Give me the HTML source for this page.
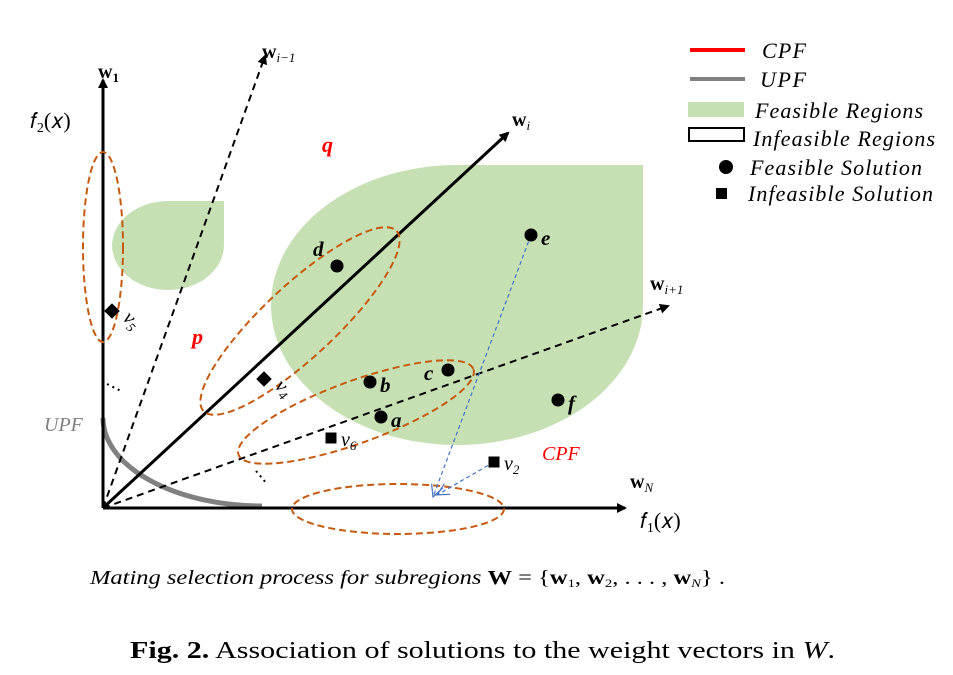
<!DOCTYPE html>
<html><head><meta charset="utf-8"><style>
html,body{margin:0;padding:0;background:#fff;}
svg{display:block;font-family:"Liberation Serif",serif;}
</style></head><body>
<svg id="fig" width="953" height="675" viewBox="0 0 953 675">
<defs>
<marker id="ah" markerWidth="10" markerHeight="10" refX="8" refY="5" orient="auto" markerUnits="userSpaceOnUse"><path d="M0,0 L10,5 L0,10 Z" fill="#000"/></marker>
<marker id="ab" markerWidth="14" markerHeight="14" refX="12" refY="7" orient="auto" markerUnits="userSpaceOnUse"><path d="M0,1 L12,7 L0,13" fill="none" stroke="#4472c4" stroke-width="1.2"/></marker>
</defs>
<g>
<path d="M457,165 L643,165 L643,305 A186 140 0 0 1 457 445 A186 140 0 0 1 271 305 A186 140 0 0 1 457 165 Z" fill="#c6e0b4"/>
<path d="M168,201 L224,201 L224,245 A56 45 0 0 1 168 290 A56 45 0 0 1 112 245 A56 45 0 0 1 168 201 Z" fill="#c6e0b4"/>
</g>
<path d="M103,418 A159 88 0 0 0 262 506" fill="none" stroke="#808080" stroke-width="5"/>
<g stroke="#000" fill="none">
<line x1="103" y1="508" x2="625" y2="508" stroke-width="3" marker-end="url(#ah)"/>
<line x1="103" y1="508" x2="103" y2="80" stroke-width="3" marker-end="url(#ah)"/>
<line x1="103" y1="508" x2="508" y2="133" stroke-width="3" marker-end="url(#ah)"/>
<line x1="103" y1="508" x2="265" y2="56" stroke-width="2" stroke-dasharray="7,5" marker-end="url(#ah)"/>
<line x1="103" y1="508" x2="668" y2="306" stroke-width="2" stroke-dasharray="7,5" marker-end="url(#ah)"/>
<line x1="107" y1="384" x2="121" y2="391" stroke-width="2" stroke-dasharray="2,4"/>
<line x1="256" y1="471" x2="267" y2="484" stroke-width="2" stroke-dasharray="2,4"/>
</g>
<g fill="none" stroke="#c55a11" stroke-width="2" stroke-dasharray="7,4">
<ellipse cx="103" cy="247" rx="20" ry="95"/>
<ellipse cx="300" cy="321" rx="132" ry="36" transform="rotate(-43 300 321)"/>
<ellipse cx="356" cy="412" rx="125" ry="31" transform="rotate(-20 356 412)"/>
<ellipse cx="398" cy="509" rx="106" ry="25"/>
</g>
<g stroke="#4472c4" stroke-width="1.2" stroke-dasharray="4,3" fill="none">
<line x1="531" y1="235" x2="433" y2="497" marker-end="url(#ab)"/>
<line x1="494" y1="462" x2="437" y2="495" marker-end="url(#ab)"/>
</g>
<g id="pts"></g>
<g font-style="italic">
<text x="322" y="152" fill="#ff0000" font-weight="bold" font-size="22">q</text>
<text x="192" y="344" fill="#ff0000" font-weight="bold" font-size="22">p</text>
<text x="44" y="431" fill="#808080" font-size="20">UPF</text>
<text x="542" y="460" fill="#ff0000" font-size="20">CPF</text>
<text x="30" y="128" font-size="22" font-style="normal">𝑓<tspan font-size="14" dy="4">2</tspan><tspan dy="-4">(𝑥)</tspan></text>
<text x="640" y="528" font-size="22" font-style="normal">𝑓<tspan font-size="14" dy="4">1</tspan><tspan dy="-4">(𝑥)</tspan></text>
</g>
<g font-weight="bold" font-size="20">
<text x="98" y="78">w<tspan font-size="13" dy="4">1</tspan></text>
<text x="262" y="58">w<tspan font-size="13" dy="4" font-style="italic" font-weight="normal">i−1</tspan></text>
<text x="512" y="126">w<tspan font-size="13" dy="4" font-style="italic" font-weight="normal">i</tspan></text>
<text x="650" y="290">w<tspan font-size="13" dy="4" font-style="italic" font-weight="normal">i+1</tspan></text>
<text x="630" y="488">w<tspan font-size="13" dy="4" font-style="italic" font-weight="normal">N</tspan></text>
</g>
<g font-style="italic" font-size="22">
<line x1="690" y1="50" x2="745" y2="50" stroke="#ff0000" stroke-width="4"/>
<line x1="690" y1="79" x2="745" y2="79" stroke="#808080" stroke-width="4"/>
<rect x="688" y="102" width="56" height="15" fill="#c6e0b4"/>
<rect x="689" y="128" width="55" height="13" fill="#fff" stroke="#000" stroke-width="2"/>
<circle cx="726" cy="167" r="7" fill="#000"/>
<rect x="716" y="188" width="11" height="11" fill="#000"/>
<text x="762" y="58" textLength="44">CPF</text>
<text x="760" y="87" textLength="46">UPF</text>
<text x="755" y="118" textLength="168">Feasible Regions</text>
<text x="753" y="146" textLength="182">Infeasible Regions</text>
<text x="750" y="175" textLength="172">Feasible Solution</text>
<text x="748" y="201" textLength="185">Infeasible Solution</text>
</g>
<text x="90" y="584" font-size="20" font-style="italic" textLength="635" lengthAdjust="spacingAndGlyphs">Mating selection process for subregions <tspan font-style="normal" font-weight="bold">W</tspan><tspan font-style="normal"> = {</tspan><tspan font-style="normal" font-weight="bold">w</tspan><tspan font-size="12" dy="3" font-style="normal">1</tspan><tspan dy="-3" font-style="normal">, </tspan><tspan font-style="normal" font-weight="bold">w</tspan><tspan font-size="12" dy="3" font-style="normal">2</tspan><tspan dy="-3" font-style="normal">, . . . , </tspan><tspan font-style="normal" font-weight="bold">w</tspan><tspan font-size="12" dy="3">N</tspan><tspan dy="-3" font-style="normal">} .</tspan></text>
<text x="130" y="658" font-size="24" textLength="705" lengthAdjust="spacingAndGlyphs"><tspan font-weight="bold">Fig. 2.</tspan>  Association of solutions to the weight vectors in <tspan font-style="italic">W</tspan>.</text>
</svg>
<script>
const feasNames=["a","b","c","d","e","f"];
const feasX=[381,370,448,337,531,558];
const feasY=[417,382,370,266,235,400];
const infNames=["v5","v4","v6","v2"];
const infX=[112,264,331,494];
const infY=[311,379,438,462];
const infRot=[45,45,0,0];
const NS="http://www.w3.org/2000/svg";
const g=document.getElementById('pts');
feasNames.forEach((n,i)=>{
  const c=document.createElementNS(NS,'circle');
  c.setAttribute('cx',feasX[i]);c.setAttribute('cy',feasY[i]);c.setAttribute('r',6.5);c.setAttribute('fill','#000');
  
  
  g.appendChild(c);
  const t=document.createElementNS(NS,'text');
  const left=(n==='c'||n==='d');
  t.setAttribute('x',left?feasX[i]-24:feasX[i]+10);
  t.setAttribute('y',n==='d'?feasY[i]-10:feasY[i]+10);
  t.setAttribute('font-size','21');t.setAttribute('font-style','italic');t.setAttribute('font-weight','bold');
  t.textContent=n;
  
  
  g.appendChild(t);
});
infNames.forEach((n,i)=>{
  const r=document.createElementNS(NS,'rect');
  r.setAttribute('x',infX[i]-5.5);r.setAttribute('y',infY[i]-5.5);r.setAttribute('width',11);r.setAttribute('height',11);r.setAttribute('fill','#000');
  r.setAttribute('transform','rotate('+infRot[i]+' '+infX[i]+' '+infY[i]+')');
  
  
  g.appendChild(r);
  const t=document.createElementNS(NS,'text');
  t.setAttribute('x',infX[i]+10);t.setAttribute('y',infY[i]+8);
  t.setAttribute('font-size','20');t.setAttribute('font-style','italic');
  if(infRot[i]) t.setAttribute('transform','rotate(45 '+(infX[i]+10)+' '+(infY[i]+8)+')');
  t.innerHTML='v<tspan font-size="13" dy="4">'+n.slice(1)+'</tspan>';
  
  
  g.appendChild(t);
});
</script>
</body></html>
